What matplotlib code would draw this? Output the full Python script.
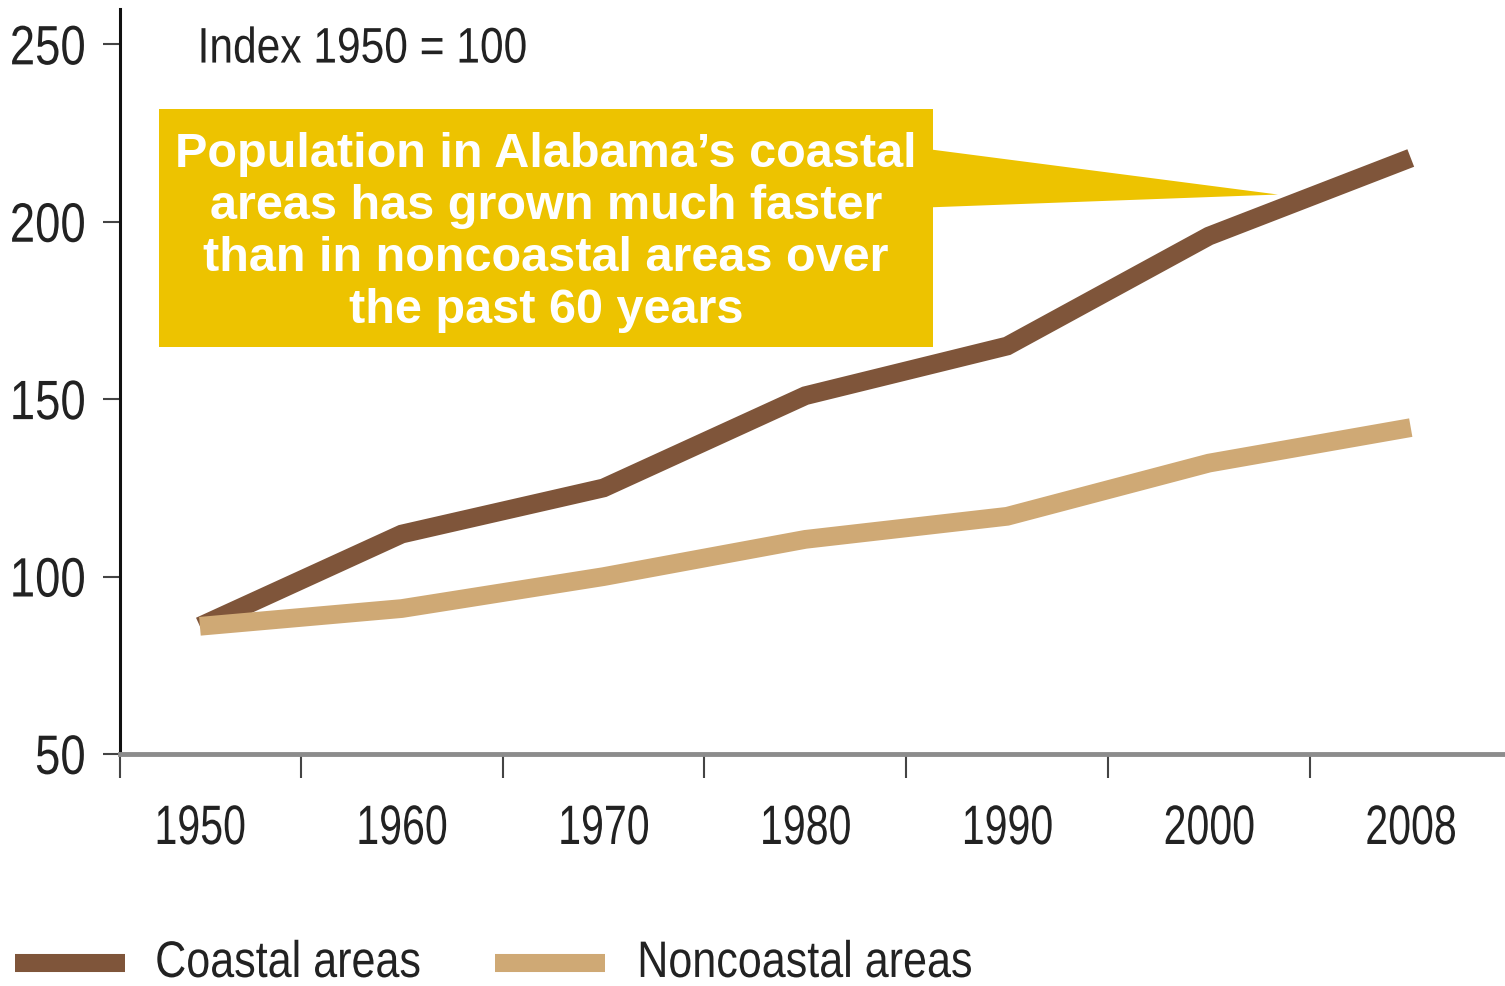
import matplotlib
matplotlib.use("Agg")
import matplotlib.pyplot as plt
from matplotlib.patches import Rectangle, Polygon
from matplotlib.lines import Line2D
from matplotlib.patheffects import AbstractPathEffect
from matplotlib.transforms import Affine2D

plt.rcParams['font.family'] = ['Liberation Sans', 'DejaVu Sans']

# data (index 1950 = 100)
years = ['1950', '1960', '1970', '1980', '1990', '2000', '2008']
coastal = [86, 112, 125, 151, 165, 196, 218]
noncoastal = [86, 91, 100, 110.5, 117, 132, 142]
y_ticks = [50, 100, 150, 200, 250]
series_names = ['Coastal areas', 'Noncoastal areas']

brown = '#7f553a'
tan = '#cfa975'
gold = '#edc300'
ink = '#222222'
W, H = 1505, 987


class Squeeze(AbstractPathEffect):
    """Narrow (and optionally stretch) the glyphs, the original uses a condensed face."""

    def __init__(self, sx, anchor='center', sy=1.0):
        super().__init__()
        self.sx = sx
        self.sy = sy
        self.anchor = anchor

    def draw_path(self, renderer, gc, tpath, affine, rgbFace=None):
        ext = tpath.get_extents(affine)
        if self.anchor == 'left':
            x0 = ext.x0
        elif self.anchor == 'right':
            x0 = ext.x1
        else:
            x0 = (ext.x0 + ext.x1) / 2
        y0 = (ext.y0 + ext.y1) / 2
        sq = Affine2D().translate(-x0, -y0).scale(self.sx, self.sy).translate(x0, y0)
        renderer.draw_path(gc, tpath, affine + sq, rgbFace)


fig = plt.figure(figsize=(W / 100, H / 100), dpi=100)
ax = fig.add_axes([120 / W, 1 - 755 / H, 1 - 120 / W, (755 - 10) / H])

x = list(range(len(years)))
ax.plot(x, coastal, color=brown, lw=13.5, solid_capstyle='butt', solid_joinstyle='miter', zorder=3)
ax.plot(x, noncoastal, color=tan, lw=13.5, solid_capstyle='butt', solid_joinstyle='miter', zorder=4)

x_left, x_right = -0.396, 6.467

# category ticks between years, labels at the years
ax.set_xticks([x_left] + [i + 0.5 for i in x[:-1]])
ax.set_xticklabels([])
ax.set_xticks(x, minor=True)
ax.set_xticklabels(years, minor=True, fontsize=40, color=ink)
ax.tick_params(axis='x', which='major', length=17, width=1.5, color='#444444', direction='out')
ax.tick_params(axis='x', which='minor', length=0, pad=36)
ax.set_yticks(y_ticks)
ax.set_yticklabels([str(v) for v in y_ticks], fontsize=36, color=ink)
ax.tick_params(axis='y', length=12.5, width=1.5, color='#444444', pad=12)
ax.set_xlim(x_left, x_right)
ax.set_ylim(50, 260)

for lbl in ax.get_xticklabels(minor=True):
    lbl.set_path_effects([Squeeze(0.74)])
for lbl in ax.get_yticklabels():
    lbl.set_path_effects([Squeeze(0.91, 'right', sy=1.11)])

for s in ['top', 'right']:
    ax.spines[s].set_visible(False)
ax.spines['left'].set_linewidth(2.2)
ax.spines['left'].set_color('#111111')
ax.spines['bottom'].set_linewidth(3.5)
ax.spines['bottom'].set_color('#8c8c8c')

ax.text(-0.015, 244.9, 'Index 1950 = 100', fontsize=36, color=ink, va='baseline', ha='left',
        path_effects=[Squeeze(0.85, 'left')])

# callout box
box_x0, box_x1 = -0.203, 3.632
box_y0, box_y1 = 164.6, 231.7
ax.add_patch(Rectangle((box_x0, box_y0), box_x1 - box_x0, box_y1 - box_y0,
                       facecolor=gold, edgecolor='none', zorder=5))
ax.add_patch(Polygon([(box_x1 - 0.01, 220.4), (5.342, 207.7), (box_x1 - 0.01, 204.1)],
                     closed=True, facecolor=gold, edgecolor='none', zorder=5))
ax.text((box_x0 + box_x1) / 2, 197.2,
        'Population in Alabama\u2019s coastal\nareas has grown much faster\n'
        'than in noncoastal areas over\nthe past 60 years',
        fontweight='bold', fontsize=35, color='white', ha='center', va='center',
        linespacing=1.2, zorder=6)

# legend drawn by hand so the narrowed labels keep the original spacing
for (x0, x1, tx), name, col in zip([(15, 125, 155), (495, 605, 637)], series_names, [brown, tan]):
    fig.add_artist(Line2D([x0 / W, x1 / W], [1 - 964 / H] * 2, transform=fig.transFigure,
                          color=col, lw=13, solid_capstyle='butt'))
    fig.text(tx / W, 1 - 976 / H, name, fontsize=33, color=ink, ha='left', va='baseline',
             path_effects=[Squeeze(0.94, 'left', sy=1.12)])

fig.savefig('out.png', dpi=100)
